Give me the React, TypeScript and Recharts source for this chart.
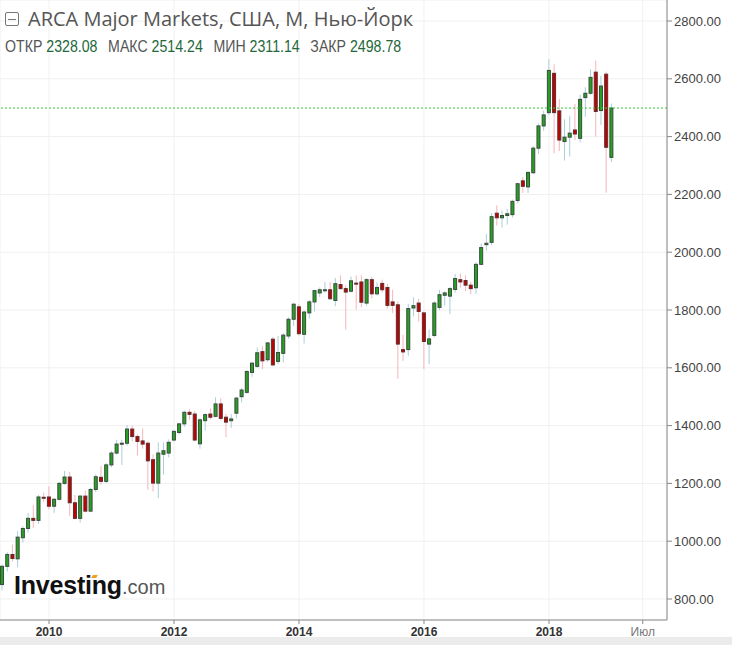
import React from "react"
import { ComposedChart, Bar, XAxis, YAxis, CartesianGrid, ReferenceLine } from "recharts"

// monthly candles, Apr 2009 .. Jan 2019
const startMonth = -9 // Apr 2009, counted from Jan 2010
const opens = [
  850, 913, 954, 939, 1012, 1044, 1079, 1072, 1152,
  1153, 1121, 1145, 1200, 1222, 1133, 1079, 1156, 1104, 1179, 1221, 1207,
  1264, 1305, 1336, 1339, 1388, 1362, 1347, 1339, 1282, 1201, 1301, 1305,
  1350, 1376, 1406, 1446, 1440, 1337, 1417, 1440, 1432, 1475, 1429, 1417,
  1443, 1500, 1515, 1584, 1605, 1656, 1628, 1699, 1622, 1650, 1710, 1768,
  1811, 1716, 1790, 1828, 1859, 1869, 1870, 1833, 1888, 1874, 1865, 1893,
  1897, 1824, 1905, 1856, 1892, 1878, 1828, 1818, 1663, 1663, 1807, 1824,
  1790, 1682, 1712, 1809, 1851, 1848, 1871, 1905, 1902, 1886, 1877, 1958,
  2026, 2034, 2135, 2119, 2127, 2130, 2179, 2247, 2226, 2275, 2360, 2437,
  2483, 2619, 2489, 2383, 2398, 2423, 2394, 2535, 2550, 2623, 2490, 2616,
  2328.08,
]
const highs = [
  920, 962, 988, 1035, 1052, 1098, 1125, 1160, 1168,
  1190, 1150, 1205, 1243, 1240, 1160, 1160, 1175, 1185, 1231, 1260, 1270,
  1312, 1351, 1351, 1402, 1400, 1370, 1390, 1345, 1300, 1342, 1342, 1352,
  1385, 1410, 1452, 1457, 1450, 1425, 1442, 1460, 1498, 1495, 1440, 1440,
  1500, 1530, 1592, 1620, 1670, 1675, 1690, 1707, 1710, 1720, 1775, 1825,
  1820, 1798, 1835, 1870, 1878, 1897, 1897, 1911, 1920, 1885, 1916, 1920,
  1920, 1910, 1915, 1895, 1905, 1890, 1870, 1830, 1714, 1821, 1844, 1839,
  1795, 1732, 1830, 1870, 1865, 1880, 1925, 1926, 1920, 1898, 1965, 2030,
  2063, 2135, 2162, 2145, 2150, 2182, 2240, 2260, 2280, 2368, 2445, 2490,
  2668, 2650, 2530, 2460, 2472, 2513, 2545, 2571, 2633, 2663, 2610, 2625,
  2514.24,
]
const lows = [
  830, 895, 930, 910, 995, 1030, 1046, 1060, 1135,
  1110, 1098, 1140, 1195, 1087, 1075, 1064, 1100, 1100, 1170, 1195, 1200,
  1255, 1300, 1264, 1330, 1345, 1296, 1320, 1178, 1172, 1149, 1230, 1290,
  1345, 1370, 1395, 1420, 1345, 1320, 1383, 1422, 1428, 1418, 1360, 1392,
  1425, 1480, 1510, 1569, 1600, 1595, 1620, 1605, 1613, 1618, 1700, 1745,
  1712, 1684, 1770, 1795, 1845, 1860, 1835, 1813, 1870, 1732, 1860, 1801,
  1810, 1815, 1840, 1850, 1860, 1805, 1790, 1562, 1624, 1640, 1778, 1760,
  1596, 1612, 1705, 1800, 1815, 1786, 1860, 1877, 1865, 1855, 1855, 1955,
  2005, 2025, 2092, 2085, 2095, 2120, 2170, 2205, 2205, 2270, 2340, 2420,
  2475, 2342, 2350, 2317, 2331, 2388, 2380, 2469, 2545, 2400, 2440, 2206,
  2311.14,
]
const closes = [
  913, 954, 940, 1014, 1044, 1079, 1072, 1153, 1149,
  1121, 1145, 1200, 1222, 1133, 1079, 1156, 1104, 1179, 1223, 1207, 1264,
  1305, 1336, 1339, 1388, 1362, 1345, 1336, 1278, 1201, 1305, 1313, 1342,
  1380, 1406, 1446, 1439, 1350, 1420, 1438, 1429, 1475, 1425, 1412, 1423,
  1495, 1523, 1587, 1616, 1652, 1624, 1686, 1610, 1653, 1713, 1768, 1820,
  1718, 1793, 1828, 1867, 1870, 1870, 1839, 1891, 1874, 1862, 1901, 1890,
  1827, 1905, 1856, 1878, 1870, 1816, 1816, 1682, 1655, 1805, 1815, 1795,
  1691, 1700, 1824, 1853, 1859, 1874, 1909, 1897, 1886, 1874, 1958, 2016,
  2031, 2123, 2119, 2127, 2133, 2176, 2237, 2228, 2276, 2360, 2437, 2475,
  2629, 2483, 2388, 2398, 2412, 2409, 2529, 2550, 2605, 2487, 2575, 2363,
  2498.78,
]

const yTicks = [800, 1000, 1200, 1400, 1600, 1800, 2000, 2200, 2400, 2600, 2800]
const xTicks = [0, 24, 48, 72, 96, 114]
const xTickLabels = ["2010", "2012", "2014", "2016", "2018", "Июл"]
const lastClose = 2498.78
const statLabels = ["ОТКР", "МАКС", "МИН", "ЗАКР"]
const statValues = ["2328.08", "2514.24", "2311.14", "2498.78"]

const data = opens.map((o, i) => ({
  t: startMonth + i,
  open: o,
  high: highs[i],
  low: lows[i],
  close: closes[i],
  range: [lows[i], highs[i]],
}))

const Candle = (props: any) => {
  const { x, y, width, height, payload } = props
  const { open, close, high, low } = payload
  const cx = x + width / 2
  const k = height / (high - low || 1)
  const yo = y + (high - open) * k
  const yc = y + (high - close) * k
  const up = close >= open
  const top = Math.min(yo, yc)
  const h = Math.max(Math.abs(yc - yo), 1)
  return (
    <g>
      <line x1={cx} x2={cx} y1={y} y2={y + height} stroke={up ? "#a9cfd9" : "#f6b4bb"} strokeWidth={1} />
      <rect
        x={cx - 1.5}
        y={top}
        width={3}
        height={h}
        fill={up ? "#22a322" : "#c20000"}
        stroke={up ? "#3c4a3c" : "#5a3030"}
        strokeWidth={1}
      />
    </g>
  )
}

const XTick = (props: any) => {
  const { x, y, payload } = props
  const idx = xTicks.indexOf(payload.value)
  const isYear = payload.value % 12 === 0
  return (
    <text
      x={x}
      y={y}
      dy={10}
      textAnchor="middle"
      fontSize={12}
      fontWeight={isYear ? 700 : 400}
      fill={isYear ? "#333" : "#777"}
      fontFamily="'Liberation Sans', Arial, sans-serif"
    >
      {xTickLabels[idx]}
    </text>
  )
}

export default function App() {
  return (
    <div style={{ position: "absolute", left: 0, top: 0, width: 732, height: 645, background: "#fff", overflow: "hidden" }}>
      <div style={{ position: "absolute", left: 0, top: 637, width: 732, height: 8, background: "#ebebeb" }} />
      <ComposedChart width={732} height={645} data={data} margin={{ top: 0, right: 0, bottom: 0, left: 0 }}>
        <CartesianGrid stroke="#f0f0f0" />
        <XAxis
          dataKey="t"
          type="number"
          domain={[-9.41, 118.66]}
          allowDataOverflow
          ticks={xTicks}
          tick={<XTick />}
          tickSize={4}
          height={25}
          stroke="#888"
          interval={0}
        />
        <YAxis
          orientation="right"
          domain={[727.3, 2872.7]}
          allowDataOverflow
          ticks={yTicks}
          tickFormatter={(v: number) => v.toFixed(2)}
          width={65}
          tickSize={5}
          stroke="#888"
          tick={{ fill: "#444", fontSize: 13, fontFamily: "'Liberation Sans', Arial, sans-serif" }}
          interval={0}
        />
        <ReferenceLine y={lastClose} stroke="#33cc33" strokeDasharray="2 2" />
        <Bar dataKey="range" barSize={5} shape={<Candle />} isAnimationActive={false} />
      </ComposedChart>
      <div style={{ position: "absolute", left: 5, top: 12, width: 12, height: 12, border: "1px solid #777", borderRadius: 2 }}>
        <div style={{ position: "absolute", left: 2, top: 5.5, width: 8, height: 1, background: "#777" }} />
      </div>
      <div style={{ position: "absolute", left: 28, top: 5, fontSize: 20, color: "#555", fontFamily: "'Open Sans', sans-serif", whiteSpace: "nowrap" }}>
        ARCA Major Markets, США, M, Нью-Йорк
      </div>
      <div
        style={{
          position: "absolute",
          left: 5,
          top: 38,
          fontSize: 16,
          color: "#555",
          fontFamily: "'Liberation Sans', sans-serif",
          whiteSpace: "nowrap",
          transform: "scaleX(0.885)",
          transformOrigin: "0 0",
        }}
      >
        {statLabels.map((l, i) => (
          <span key={l} style={{ marginRight: 12 }}>
            {l} <span style={{ color: "#23683a" }}>{statValues[i]}</span>
          </span>
        ))}
      </div>
      <div style={{ position: "absolute", left: 14, top: 571, whiteSpace: "nowrap", fontFamily: "'Liberation Sans', Arial, sans-serif" }}>
        <span style={{ fontSize: 25, fontWeight: 700, color: "#111", letterSpacing: -0.2 }}>Investing</span>
        <span style={{ fontSize: 20, color: "#555" }}>.com</span>
      </div>
      <div style={{ position: "absolute", left: 92, top: 575, width: 5, height: 3, background: "#f5a01a", transform: "skewX(-30deg)" }} />
    </div>
  )
}
